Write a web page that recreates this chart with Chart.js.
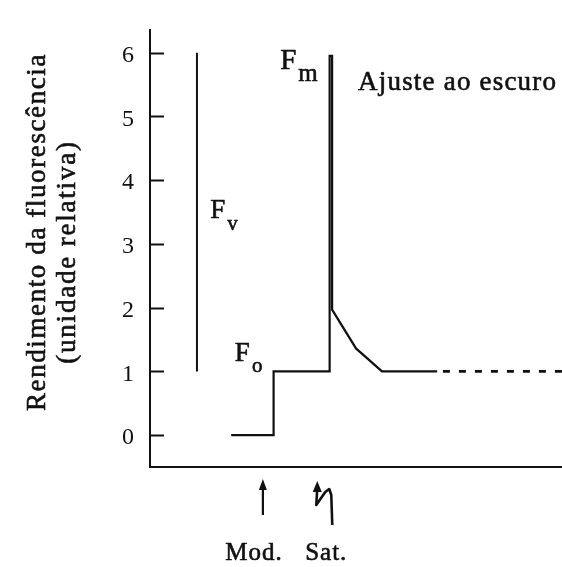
<!DOCTYPE html>
<html>
<head>
<meta charset="utf-8">
<script src="https://cdn.jsdelivr.net/npm/chart.js@4/dist/chart.umd.min.js"></script>
<style>
  html, body { margin: 0; padding: 0; background: #fff; }
  #wrap { width: 562px; height: 567px; position: relative; }
</style>
</head>
<body>
<div id="wrap"><canvas id="fluo"></canvas></div>
<script>
// Fluorescence trace (relative time units vs relative yield)
const yTicks = [0, 1, 2, 3, 4, 5, 6];
const traceTime = [19.7, 30, 30, 43.6, 43.6, 44.2, 44.2, 50.0, 56.3, 69.7];
const traceYield = [0, 0, 1, 1, 5.95, 5.95, 1.97, 1.36, 1.0, 1.0];
const darkTime = [71.1, 100];
const darkYield = [1, 1];
const fvTime = [11.4, 11.4];
const fvYield = [1, 6];
const modTime = 27.4;
const satTime = 40.6;

const INK = '#111';
const SERIF = '"Liberation Serif", "DejaVu Serif", serif';

const toPoints = (xs, ys) => xs.map((x, i) => ({ x: x, y: ys[i] }));

// filled text with a thin outline so the serif reads a bit heavier
function inkText(ctx, str, x, y) {
    ctx.fillText(str, x, y);
    ctx.strokeText(str, x, y);
}

// text with a lowered subscript, e.g. F + m
function subText(ctx, x, y, main, sub, mainSize, subSize, drop) {
    ctx.font = mainSize + 'px ' + SERIF;
    inkText(ctx, main, x, y);
    const w = ctx.measureText(main).width;
    ctx.font = subSize + 'px ' + SERIF;
    inkText(ctx, sub, x + w + 1, y + drop);
}

const annotations = {
    id: 'annotations',
    afterDraw(chart) {
        const ctx = chart.ctx;
        const xs = chart.scales.x;
        const ys = chart.scales.y;
        const area = chart.chartArea;
        ctx.save();
        ctx.fillStyle = INK;
        ctx.strokeStyle = INK;

        // inward tick marks on the y axis
        ctx.lineWidth = 2;
        yTicks.forEach(v => {
            const py = Math.round(ys.getPixelForValue(v)) + 0.5;
            ctx.beginPath();
            ctx.moveTo(area.left, py);
            ctx.lineTo(area.left + 14, py);
            ctx.stroke();
        });

        ctx.lineWidth = 0.6;
        ctx.lineJoin = 'round';

        // axis title, two rotated lines
        ctx.save();
        ctx.textAlign = 'center';
        ctx.textBaseline = 'middle';
        ctx.font = '27px ' + SERIF;
        ctx.letterSpacing = '1.6px';
        ctx.translate(38, 232);
        ctx.rotate(-Math.PI / 2);
        inkText(ctx, 'Rendimento da fluorescência', 0, 0);
        ctx.restore();
        ctx.save();
        ctx.textAlign = 'center';
        ctx.textBaseline = 'middle';
        ctx.font = '27px ' + SERIF;
        ctx.letterSpacing = '1.8px';
        ctx.translate(68, 252);
        ctx.rotate(-Math.PI / 2);
        inkText(ctx, '(unidade relativa)', 0, 0);
        ctx.restore();

        // labels inside the plot
        ctx.textAlign = 'left';
        ctx.textBaseline = 'alphabetic';
        ctx.letterSpacing = '1px';
        subText(ctx, xs.getPixelForValue(14.6), ys.getPixelForValue(3.41), 'F', 'v', 27, 21, 12);
        subText(ctx, xs.getPixelForValue(20.6), ys.getPixelForValue(1.16), 'F', 'o', 27, 21, 11);
        subText(ctx, xs.getPixelForValue(31.6), ys.getPixelForValue(5.74), 'F', 'm', 29, 25, 12);
        ctx.font = '27px ' + SERIF;
        ctx.letterSpacing = '1.2px';
        inkText(ctx, 'Ajuste ao escuro', xs.getPixelForValue(50.5), ys.getPixelForValue(5.41));

        // measuring-light and saturating-flash arrows under the axis
        const mx = xs.getPixelForValue(modTime);
        const sx = xs.getPixelForValue(satTime);
        ctx.lineWidth = 2.2;
        ctx.beginPath();
        ctx.moveTo(mx, 486);
        ctx.lineTo(mx, 515);
        ctx.stroke();
        ctx.beginPath();
        ctx.moveTo(mx, 479);
        ctx.lineTo(mx - 4, 490);
        ctx.lineTo(mx + 4, 490);
        ctx.closePath();
        ctx.fill();

        ctx.lineWidth = 2.6;
        ctx.beginPath();
        ctx.moveTo(sx, 488);
        ctx.lineTo(sx - 1, 505);
        ctx.lineTo(sx + 8, 492);
        ctx.lineTo(sx + 12, 489);
        ctx.lineTo(sx + 14, 495);
        ctx.lineTo(sx + 15, 525);
        ctx.stroke();
        ctx.beginPath();
        ctx.moveTo(sx, 481);
        ctx.lineTo(sx - 4.5, 492);
        ctx.lineTo(sx + 4.5, 492);
        ctx.closePath();
        ctx.fill();

        ctx.lineWidth = 0.6;
        ctx.textAlign = 'center';
        ctx.font = '25px ' + SERIF;
        ctx.letterSpacing = '1px';
        inkText(ctx, 'Mod.', mx - 9, 560);
        inkText(ctx, 'Sat.', sx + 9, 560);
        ctx.restore();
    }
};

const lineStyle = {
    showLine: true,
    pointRadius: 0,
    borderColor: INK,
    borderWidth: 2.2,
    fill: false,
    tension: 0
};

new Chart(document.getElementById('fluo'), {
    type: 'scatter',
    data: {
        datasets: [
            Object.assign({ data: toPoints(traceTime, traceYield) }, lineStyle),
            Object.assign({ data: toPoints(darkTime, darkYield), borderDash: [7, 9] }, lineStyle, { borderWidth: 2.6 }),
            Object.assign({ data: toPoints(fvTime, fvYield) }, lineStyle, { borderWidth: 2 })
        ]
    },
    options: {
        responsive: true,
        maintainAspectRatio: false,
        animation: false,
        layout: { padding: { left: 90, top: 13, right: 0, bottom: 100 } },
        plugins: { legend: { display: false }, tooltip: { enabled: false } },
        scales: {
            x: {
                type: 'linear',
                min: 0,
                max: 100,
                grid: { display: false, drawTicks: false },
                ticks: { display: false },
                border: { display: true, color: INK, width: 2 },
                afterFit: scale => { scale.height = 0; }
            },
            y: {
                type: 'linear',
                min: -0.5,
                max: 6.35,
                afterBuildTicks: scale => { scale.ticks = yTicks.map(v => ({ value: v })); },
                grid: { display: false, drawTicks: false },
                ticks: {
                    color: INK,
                    padding: 16,
                    labelOffset: 3,
                    font: { family: SERIF, size: 24 }
                },
                border: { display: true, color: INK, width: 2 },
                afterFit: scale => { scale.width = 60; }
            }
        }
    },
    plugins: [annotations]
});
</script>
</body>
</html>
